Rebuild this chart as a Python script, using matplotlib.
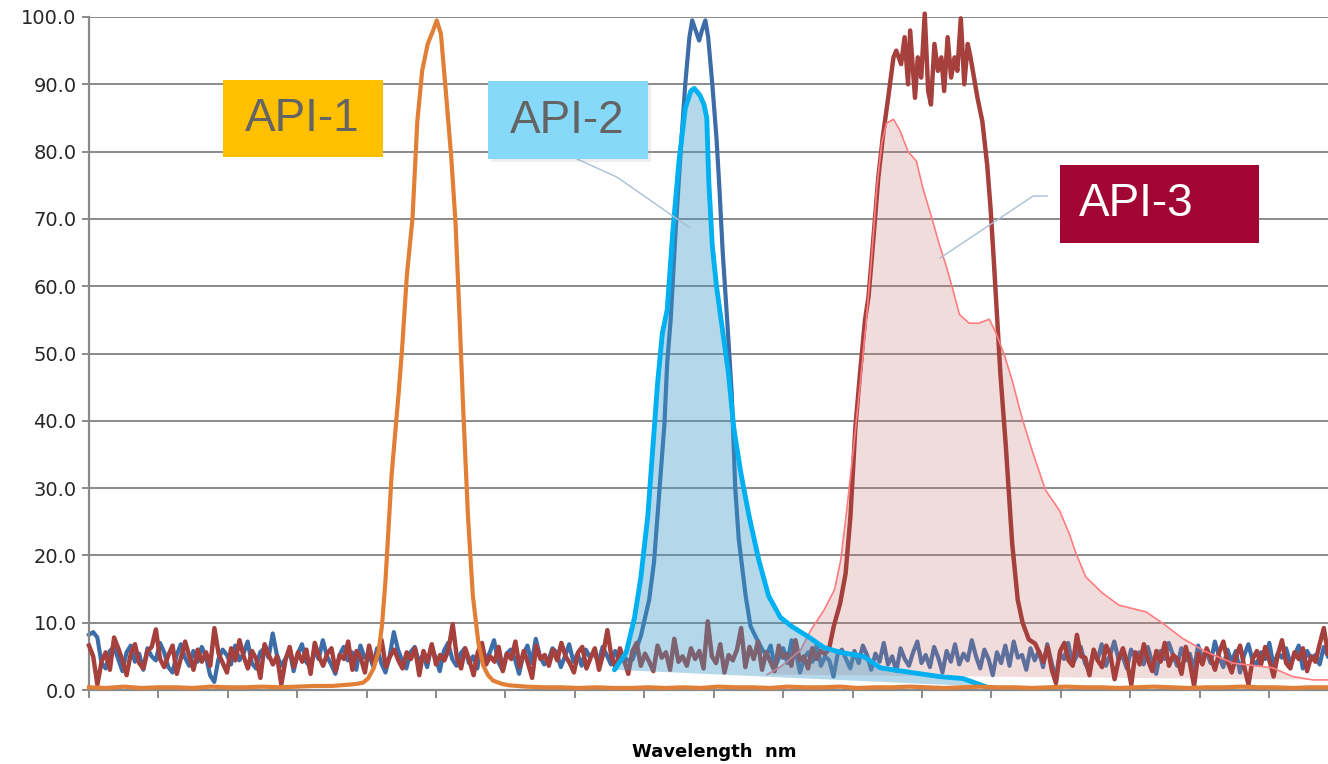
import numpy as np
import matplotlib
matplotlib.use("Agg")
import matplotlib.pyplot as plt
from matplotlib.patches import Rectangle

# ---------------- data (x in units of the unlabeled wavelength ticks) ----------------
X_MAX = 17.85
x_ticks = list(range(0, 18))
y_ticks = [0, 10, 20, 30, 40, 50, 60, 70, 80, 90, 100]
x_label = "Wavelength  nm"
labels = ["API-1", "API-2", "API-3"]

# API-1 (orange spectrum)
api1_base_left = [0.4, 0.3, 0.5, 0.3, 0.4, 0.4, 0.3, 0.5, 0.4, 0.4, 0.5, 0.4, 0.5, 0.6, 0.6, 0.8]
api1_peak_x = [3.85, 3.95, 4.02, 4.10, 4.17, 4.22, 4.27, 4.36, 4.46, 4.51,
               4.58, 4.66, 4.73, 4.80, 4.88, 4.95, 5.01, 5.07, 5.14, 5.22,
               5.28, 5.34, 5.39, 5.46, 5.53, 5.61, 5.68, 5.75, 5.82, 5.95]
api1_peak_y = [0.9, 1.1, 1.7, 3.2, 5.6, 9.5, 16.0, 32.0, 44.0, 50.6,
               61.7, 70.0, 84.5, 92.0, 96.0, 97.8, 99.5, 97.5, 89.0, 79.0,
               69.5, 55.0, 42.0, 25.8, 14.0, 7.0, 3.6, 2.2, 1.4, 0.9]
api1_base_right = [0.7, 0.5, 0.4, 0.4, 0.3, 0.4, 0.3, 0.3, 0.4, 0.3, 0.4, 0.3,
                   0.5, 0.4, 0.4, 0.3, 0.5, 0.4, 0.4, 0.5, 0.3, 0.4, 0.4, 0.5,
                   0.4, 0.3, 0.4, 0.5, 0.4, 0.4, 0.3, 0.4, 0.5, 0.4, 0.4, 0.3,
                   0.4, 0.5, 0.4, 0.3, 0.4, 0.4, 0.5, 0.4, 0.4, 0.3, 0.4, 0.4]

# API-2 measured (dark blue, noisy)
api2_noise_left = [8.2, 8.6, 7.8, 4.0, 3.2, 5.8, 6.4, 4.6, 2.8, 5.6,
                   6.6, 4.2, 5.4, 3.0, 6.2, 5.0, 4.4, 7.0, 5.6, 3.4,
                   2.6, 5.2, 6.8, 4.8, 3.6, 5.8, 4.2, 6.4, 5.0, 2.2,
                   1.2, 4.6, 6.0, 5.2, 3.8, 6.6, 4.4, 5.4, 7.2, 4.0,
                   3.2, 5.6, 6.2, 4.8, 8.4, 5.2, 3.6, 4.6, 6.0, 2.8,
                   5.4, 6.8, 4.2, 3.4, 5.8, 4.6, 7.4, 5.0, 3.8, 2.4,
                   5.2, 6.4, 4.4, 5.6, 3.0, 6.6, 4.8, 5.4, 3.6, 6.2,
                   4.0, 2.6, 5.0, 8.6, 6.0, 4.4, 3.2, 5.6, 6.4, 4.2,
                   5.2, 3.4, 6.6, 4.8, 2.8, 5.8, 7.0, 4.6, 3.6, 5.4,
                   6.2, 4.0, 5.0, 3.2, 6.8, 4.4, 5.6, 7.4, 4.2, 3.0,
                   5.4, 6.0, 4.6, 2.4, 5.2, 6.6, 4.0, 7.6, 5.0, 3.8,
                   4.4, 6.2, 5.6, 3.4, 5.0, 6.8, 4.2, 5.4, 3.6, 6.0,
                   4.8, 5.6, 4.0, 6.4, 5.2, 3.8, 5.8, 4.6, 5.0, 4.4]
api2_peak_x = [7.83, 7.95, 8.07, 8.14, 8.22, 8.29, 8.33, 8.38, 8.45, 8.53,
               8.59, 8.65, 8.69, 8.74, 8.79, 8.83, 8.88, 8.92, 8.98, 9.04,
               9.08, 9.13, 9.20, 9.26, 9.31, 9.36, 9.46, 9.53, 9.60, 9.70]
api2_peak_y = [4.5, 8.0, 13.4, 19.0, 30.0, 39.5, 48.6, 55.0, 68.0, 81.0,
               90.0, 97.0, 99.5, 98.0, 96.5, 98.0, 99.5, 97.0, 90.0, 82.0,
               75.0, 65.0, 54.0, 44.0, 30.0, 22.5, 14.0, 9.5, 8.0, 6.0]
api2_noise_right = [5.2, 6.6, 3.4, 4.8, 6.2, 4.0, 7.4, 5.6, 2.6, 4.8,
                    5.6, 4.2, 6.8, 3.6, 5.0, 4.4, 2.0, 5.4, 6.0, 4.6,
                    3.2, 5.8, 4.0, 6.6, 5.2, 3.0, 5.4, 4.2, 7.0, 3.8,
                    5.0, 2.8, 6.2, 4.6, 3.6, 5.6, 7.2, 4.0, 5.2, 3.4,
                    6.4, 4.8, 2.6, 5.8, 4.2, 6.8, 3.8, 5.4, 4.4, 7.4,
                    5.0, 3.2, 6.0, 4.6, 2.2, 5.6, 4.0, 6.6, 3.6, 7.2,
                    4.8, 5.2, 3.0, 6.2, 4.4, 5.8, 3.4, 6.8, 4.2, 1.6,
                    5.4, 4.6, 7.0, 3.8, 5.0, 6.4, 4.0, 2.8, 5.6, 4.4,
                    6.8, 3.6, 5.2, 7.2, 4.6, 5.0, 3.2, 6.0, 4.8, 5.6,
                    3.8, 6.4, 4.2, 2.4, 5.8, 4.6, 7.0, 5.2, 3.6, 6.2,
                    4.4, 5.4, 3.0, 6.6, 4.8, 5.6, 4.0, 7.2, 5.0, 3.4,
                    6.0, 4.2, 5.8, 2.6, 5.2, 6.8, 4.4, 3.8, 5.6, 4.6,
                    7.0, 3.6, 5.4, 4.8, 6.2, 4.0, 5.0, 6.6, 3.2, 5.8,
                    4.6, 5.2, 3.8, 6.4, 5.0]

# API-2 reference (light blue area)
api2_area_x = [7.57, 7.74, 7.86, 7.95, 8.05, 8.12, 8.19, 8.26, 8.33, 8.41,
               8.50, 8.59, 8.67, 8.72, 8.80, 8.86, 8.90, 8.93, 8.98, 9.04,
               9.12, 9.21, 9.29, 9.39, 9.51, 9.65, 9.79, 9.96, 10.13, 10.35,
               10.59, 10.82, 11.16, 11.40, 11.78, 12.25, 12.59, 12.92]
api2_area_y = [3.0, 5.6, 10.8, 16.7, 25.8, 35.6, 45.4, 53.0, 56.5, 68.0,
               78.6, 86.4, 89.0, 89.4, 88.4, 87.0, 85.0, 75.4, 66.0, 60.0,
               54.0, 47.3, 38.9, 32.3, 25.8, 19.3, 14.0, 10.8, 9.4, 8.0,
               6.3, 5.6, 5.0, 3.3, 2.7, 2.0, 1.7, 0.5]

# API-3 measured (dark red, noisy)
api3_noise_left = [6.6, 5.0, 0.8, 4.2, 5.6, 3.0, 7.8, 6.2, 4.4, 2.2,
                   5.4, 6.8, 4.0, 3.2, 5.8, 6.4, 9.0, 4.6, 3.4, 5.2,
                   6.6, 2.4, 4.8, 7.2, 5.0, 3.0, 6.0, 4.2, 5.6, 3.6,
                   9.2, 5.4, 4.0, 2.6, 6.2, 4.4, 7.4, 5.0, 3.2, 5.8,
                   4.6, 1.8, 6.8, 5.2, 3.8, 5.0, 0.8, 4.4, 6.4, 3.4,
                   5.6, 4.2, 6.0, 2.4, 7.0, 5.0, 3.6, 5.4, 6.2, 2.8,
                   5.2, 4.6, 7.2, 3.0, 5.8, 4.8, 2.6, 6.6, 4.0, 5.4,
                   7.4, 3.4, 5.0, 6.0, 4.4, 3.2, 5.6, 4.6, 6.2, 2.2,
                   5.8, 4.2, 6.8, 3.8, 5.2, 4.4, 6.0, 9.8, 4.8, 3.2,
                   6.2, 4.4, 2.2, 5.6, 7.0, 3.8, 5.0, 4.2, 6.4, 2.8,
                   5.4, 4.6, 7.2, 3.4, 5.8, 4.0, 1.8, 6.6, 4.6, 5.2,
                   3.6, 6.0, 4.4, 7.0, 5.0, 4.0, 2.6, 5.6, 6.4, 3.2,
                   4.8, 6.2, 3.0, 5.4, 8.9, 4.8, 3.2, 6.2, 4.4, 2.4,
                   5.8, 7.0, 3.6, 5.4, 4.2, 2.8, 6.6, 4.8, 5.6, 3.0,
                   7.6, 4.2, 5.0, 3.6, 6.2, 4.6, 5.8, 3.2, 10.2, 5.0,
                   4.0, 6.8, 2.6, 5.2, 4.4, 6.0, 9.2, 3.4, 6.4, 4.6,
                   7.2, 3.0, 5.6, 4.2, 2.8, 6.6, 4.8, 5.4, 3.6, 7.4,
                   4.4, 5.0, 3.2, 6.2, 4.6, 5.8, 5.4]
api3_peak_x = [10.66, 10.73, 10.82, 10.90, 10.97, 11.04, 11.11, 11.18, 11.23, 11.30,
               11.37, 11.44, 11.51, 11.59, 11.63, 11.70, 11.75, 11.80, 11.83, 11.90,
               11.94, 11.99, 12.04, 12.09, 12.13, 12.18, 12.23, 12.28, 12.32, 12.37,
               12.42, 12.47, 12.51, 12.56, 12.61, 12.66, 12.70, 12.75, 12.80, 12.87,
               12.94, 12.99, 13.04, 13.09, 13.13, 13.18, 13.21, 13.26, 13.30, 13.38,
               13.45, 13.54, 13.63]
api3_peak_y = [6.0, 9.5, 12.8, 17.3, 25.8, 38.9, 47.3, 55.0, 58.4, 67.0,
               76.0, 82.5, 87.7, 94.0, 95.0, 93.0, 97.0, 90.0, 98.0, 88.0,
               94.0, 91.0, 100.5, 89.0, 87.0, 96.0, 92.0, 94.0, 89.0, 97.0,
               91.0, 94.0, 92.0, 99.8, 90.0, 96.0, 94.0, 91.0, 88.0, 84.5,
               78.0, 71.4, 63.0, 54.0, 47.0, 40.0, 36.0, 28.0, 21.8, 13.4,
               10.0, 7.5, 6.9]
api3_noise_right = [5.6, 4.2, 6.4, 3.0, 1.0, 5.8, 7.0, 4.4, 3.6, 8.2,
                    5.0, 4.8, 2.2, 6.0, 4.4, 3.4, 6.6, 5.2, 1.6, 4.6,
                    6.2, 4.0, 0.8, 5.6, 3.8, 6.8, 4.4, 2.8, 5.8, 4.2,
                    7.0, 3.6, 5.2, 4.6, 2.4, 6.4, 4.0, 0.6, 5.4, 3.8,
                    6.2, 4.8, 3.0, 5.6, 7.2, 4.2, 2.6, 5.0, 6.6, 3.4,
                    0.8, 4.6, 5.8, 3.8, 6.4, 4.4, 2.0, 5.2, 7.4, 4.0,
                    3.2, 5.6, 4.6, 6.2, 2.8, 5.0, 4.2, 6.8, 9.2, 5.4]

# API-3 reference (pink area)
api3_area_x = [9.77, 9.97, 10.25, 10.40, 10.59, 10.74, 10.83, 10.92, 11.01, 11.11,
               11.20, 11.28, 11.35, 11.42, 11.49, 11.59, 11.68, 11.80, 11.92, 12.01,
               12.16, 12.25, 12.35, 12.44, 12.54, 12.68, 12.82, 12.97, 13.06, 13.18,
               13.30, 13.44, 13.59, 13.78, 13.98, 14.12, 14.22, 14.36, 14.60, 14.84,
               15.23, 15.47, 15.75, 16.09, 16.48, 17.05, 17.34, 17.63, 17.85]
api3_area_y = [2.3, 3.5, 5.9, 8.9, 11.9, 14.9, 19.3, 27.0, 35.6, 45.4,
               55.0, 65.0, 74.7, 81.2, 84.2, 84.8, 83.2, 80.0, 78.6, 74.7,
               69.5, 66.2, 63.0, 59.7, 55.8, 54.5, 54.5, 55.1, 53.2, 50.0,
               46.0, 40.5, 35.5, 29.7, 26.7, 23.3, 20.3, 16.8, 14.4, 12.6,
               11.6, 9.9, 7.7, 5.7, 4.0, 3.3, 2.0, 1.5, 1.5]

# ---------------- assemble series ----------------
api1_x = np.concatenate([np.linspace(0.0, 3.75, len(api1_base_left)), api1_peak_x,
                         np.linspace(6.05, X_MAX, len(api1_base_right))])
api1_y = np.concatenate([api1_base_left, api1_peak_y, api1_base_right])

api2_x = np.concatenate([np.linspace(0.0, 7.76, len(api2_noise_left)), api2_peak_x,
                         np.linspace(9.76, X_MAX, len(api2_noise_right))])
api2_y = np.concatenate([api2_noise_left, api2_peak_y, api2_noise_right])

api3_x = np.concatenate([np.linspace(0.0, 10.6, len(api3_noise_left)), api3_peak_x,
                         np.linspace(13.69, X_MAX, len(api3_noise_right))])
api3_y = np.concatenate([api3_noise_left, api3_peak_y, api3_noise_right])

# ---------------- figure ----------------
W, H = 1328, 764
fig = plt.figure(figsize=(W / 100, H / 100), dpi=100)
ax = fig.add_axes([89 / W, 74 / H, (W - 89) / W, 673 / H])
ax.set_xlim(0, X_MAX)
ax.set_ylim(0, 100)

grid_c = "#8a8a8a"
ax.set_yticks(y_ticks)
ax.set_yticklabels([f"{v:.1f}" for v in y_ticks])
ax.set_xticks(x_ticks)
ax.set_xticklabels([])
ax.yaxis.grid(True, color=grid_c, lw=1.4, zorder=0)
ax.set_axisbelow(True)
for s in ["top", "right"]:
    ax.spines[s].set_visible(False)
for s in ["left", "bottom"]:
    ax.spines[s].set_color(grid_c)
    ax.spines[s].set_linewidth(1.6)
ax.tick_params(axis="y", direction="out", length=5, width=1.4, color=grid_c,
               labelsize=14, labelcolor="#262626", pad=4)
ax.tick_params(axis="x", direction="out", length=6, width=1.4, color=grid_c)

# series (layer order as in the reference)
ax.plot(api2_x, api2_y, color="#3C6DA8", lw=3.0, zorder=2, clip_on=False)
ax.fill(api3_area_x, api3_area_y, color="#CB7777", alpha=0.25, lw=0, zorder=3)
ax.plot(api3_x, api3_y, color="#A5403D", lw=3.2, zorder=4, clip_on=False)
ax.plot(api3_area_x, api3_area_y, color="#FF7C80", lw=1.2, zorder=5)
ax.fill(api2_area_x, api2_area_y, color="#3C9AC8", alpha=0.38, lw=0, zorder=6)
ax.plot(api2_area_x, api2_area_y, color="#00B0F0", lw=3.5, zorder=7,
        solid_capstyle="round")
ax.plot(api1_x, api1_y, color="#E07F35", lw=3.0, zorder=8, clip_on=False)

# ---------------- label boxes ----------------
def box(x0, x1, y0, y1, fc, z=10, alpha=1.0):
    ax.add_patch(Rectangle((x0, y0), x1 - x0, y1 - y0, facecolor=fc, alpha=alpha,
                           edgecolor="none", zorder=z, clip_on=False))

# API-1
box(1.931, 4.236, 79.2, 90.64, "#FFC000")
ax.text(3.07, 84.9, labels[0], ha="center", va="center", fontsize=33,
        family="Liberation Sans", color="#646464", zorder=11)

# API-2 (with faint shadow and leader line)
ax.plot([7.032, 7.608, 8.660], [78.9, 76.2, 68.65], color="#A9BED8", lw=1.0, zorder=9)
box(5.79, 8.09, 78.5, 90.0, "#9E9E9E", z=9.5, alpha=0.18)
box(5.749, 8.055, 78.9, 90.49, "#87D9FA")
ax.text(6.89, 84.6, labels[1], ha="center", va="center", fontsize=33,
        family="Liberation Sans", color="#646464", zorder=11)

# API-3 (with leader line)
ax.plot([13.804, 13.602, 12.262], [73.4, 73.4, 64.2], color="#A9BED8", lw=1.0, zorder=9)
box(13.991, 16.859, 66.42, 78.0, "#A10634")
ax.text(14.265, 72.2, labels[2], ha="left", va="center", fontsize=33,
        family="Liberation Sans", color="white", zorder=11)

# x-axis title
fig.text(714 / W, 1 - 757 / H, x_label, ha="center", va="baseline",
         fontsize=13, fontweight="bold", color="black")

fig.savefig("out.png", dpi=100)
